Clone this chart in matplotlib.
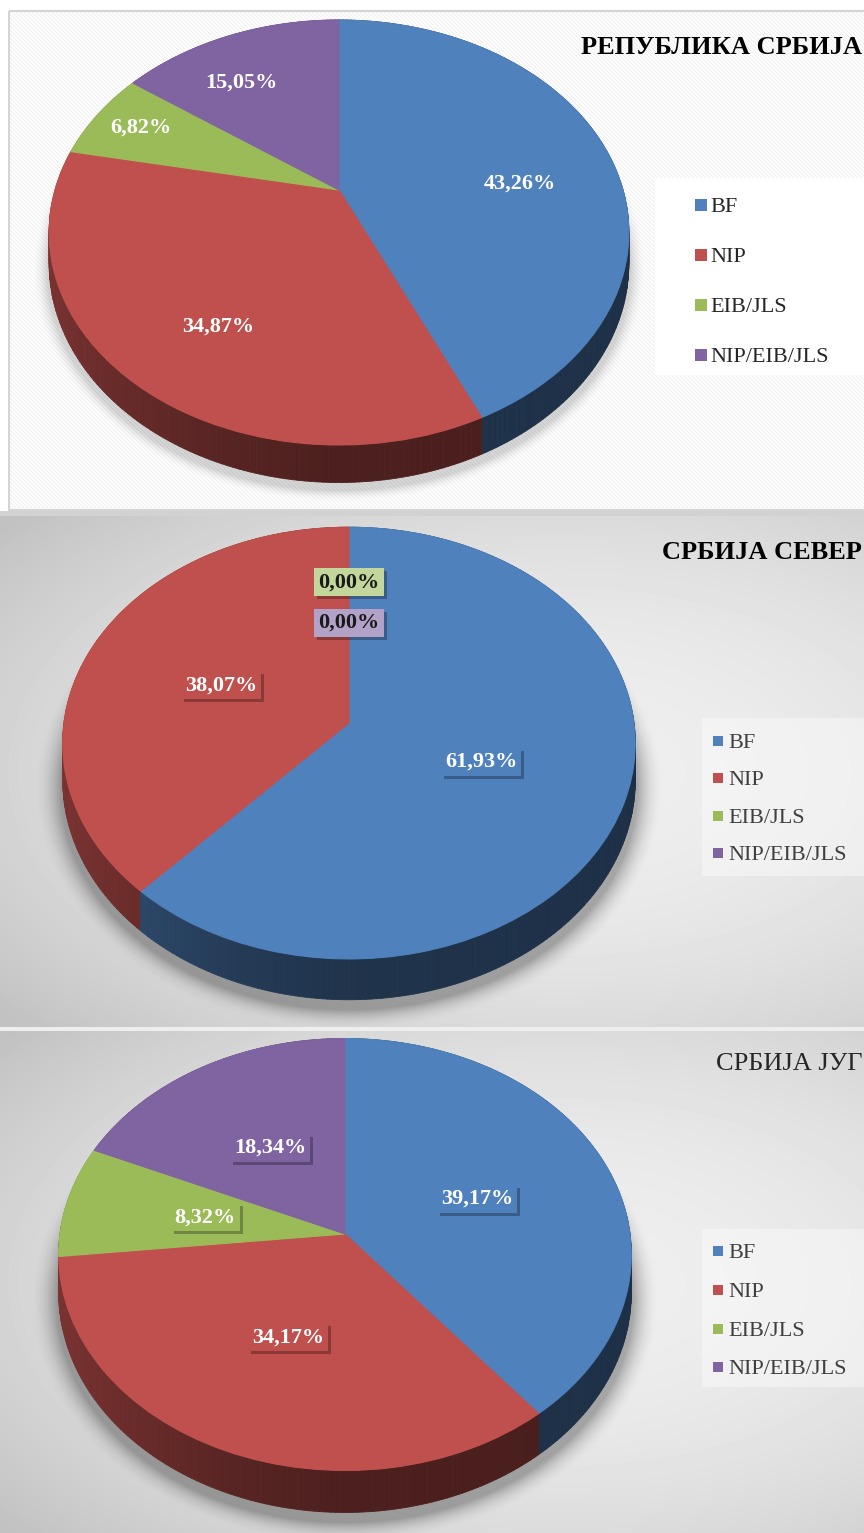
import numpy as np
import matplotlib
matplotlib.use("Agg")
import matplotlib.pyplot as plt
import matplotlib.transforms as mtransforms
from matplotlib.collections import PolyCollection
from matplotlib.colors import to_rgb
from matplotlib.patches import Rectangle

plt.rcParams["font.family"] = ["Liberation Serif", "DejaVu Serif"]

# shares of each source, in percent
categories = ["BF", "NIP", "EIB/JLS", "NIP/EIB/JLS"]
slice_colors = ["#4f81bd", "#c0504d", "#9bbb59", "#8064a2"]
pale_colors = ["#a7c0de", "#e0a8a6", "#c3d69b", "#b3a2c7"]

titles = ["РЕПУБЛИКА СРБИЈА", "СРБИЈА СЕВЕР", "СРБИЈА ЈУГ"]
share_republika = [43.26, 34.87, 6.82, 15.05]
share_sever = [61.93, 38.07, 0.00, 0.00]
share_jug = [39.17, 34.17, 8.32, 18.34]

W, H = 864, 1533


class TiltedDisk(mtransforms.Transform):
    """Perspective view of a flat unit disk, output in pixels (y down)."""
    input_dims = 2
    output_dims = 2

    def __init__(self, cx, cy, sx, sy, persp, drop=0.0):
        super().__init__()
        self.cx, self.cy, self.sx, self.sy = cx, cy, sx, sy
        self.persp, self.drop = persp, drop

    def transform_non_affine(self, xy):
        xy = np.asarray(xy, dtype=float)
        u, v = xy[:, 0], xy[:, 1]
        w = 1 + self.persp * v
        return np.column_stack([self.cx + self.sx * u / w,
                                self.cy + (self.drop - self.sy * v) / w])


panels = [
    dict(title=titles[0], values=share_republika, y0=10, y1=510,
         cx=339, cy=190, sx=284, sy=204, persp=0.20, depth=30,
         label_r=[0.64, 0.70, 0.81, 0.70], label_turn=[9.5, -6, 0, -6],
         boxed=False, title_y=54, title_bold=True, title_color="#000000",
         legend_box=(655, 178, 864, 375), legend_x=701, text_x=710,
         legend_y=[212, 262, 312, 362], marker=75, legend_color="#262626",
         shadow=(0.16, 14, 6)),
    dict(title=titles[1], values=share_sever, y0=516, y1=1027,
         cx=349, cy=723, sx=285, sy=214, persp=0.093, depth=37,
         label_r=[0.49, 0.49, 0.70, 0.49], label_turn=[0, 0, 0, 0],
         boxed=True, title_y=559, title_bold=True, title_color="#000000",
         legend_box=(702, 718, 864, 876), legend_x=718, text_x=728,
         legend_y=[748, 785, 823, 860], marker=45, legend_color="#404040",
         shadow=(0.30, 24, 8)),
    dict(title=titles[2], values=share_jug, y0=1031, y1=1533,
         cx=345, cy=1234, sx=285, sy=214, persp=0.095, depth=38,
         label_r=[0.50, 0.50, 0.50, 0.50], label_turn=[0, 0, 0, 0],
         boxed=True, title_y=1070, title_bold=False, title_color="#262626",
         legend_box=(702, 1229, 864, 1387), legend_x=718, text_x=728,
         legend_y=[1258, 1297, 1336, 1374], marker=45, legend_color="#404040",
         shadow=(0.30, 24, 8)),
]


def gray_image(ax, vals, x0, x1, y0, y1, z=0):
    ax.imshow(vals, cmap="gray", vmin=0, vmax=1, extent=(x0, x1, y1, y0),
              interpolation="nearest", zorder=z)


def pie_shadow(ax, p, amax, soft, drop):
    cx, cy, sx, sy, a, h = p["cx"], p["cy"], p["sx"], p["sy"], p["persp"], p["depth"]
    A = sx / np.sqrt(1 - a * a) + 2
    ytop = cy + (h - sy) / (1 + a)
    ybot = cy + (h + sy) / (1 - a)
    ym = (ytop + ybot) / 2 + drop
    B = (ybot - ytop) / 2 + 2
    x0, x1 = int(max(0, cx - A - 3 * soft)), int(min(W, cx + A + 3 * soft))
    y0, y1 = int(max(p["y0"], ym - B - 3 * soft)), int(min(p["y1"], ym + B + 3 * soft))
    yy, xx = np.mgrid[y0:y1, x0:x1] + 0.5
    r = np.hypot((xx - cx) / A, (yy - ym) / B)
    d = (r - 1) * np.sqrt(A * B)
    alpha = amax * np.clip(1 - d / soft, 0, 1) ** 2
    img = np.zeros(xx.shape + (4,))
    img[..., 3] = alpha
    ax.imshow(img, extent=(x0, x1, y1, y0), interpolation="bilinear", zorder=2)


fig = plt.figure(figsize=(W / 100, H / 100), dpi=100)
fig.patch.set_facecolor("white")
ax = fig.add_axes([0, 0, 1, 1])

# top panel: white with fine diagonal hatching and a thin frame
yy, xx = np.mgrid[10:510, 8:W]
gray_image(ax, np.where((xx - yy) % 4 == 0, 0.935, 0.985), 8, W, 10, 510)
ax.add_patch(Rectangle((8.5, 10.5), W, 499, fill=False, ec="#d4d4d4", lw=1.5, zorder=1))
ax.add_patch(Rectangle((0, 511), W, 5, fc="#d2d2d2", ec="none", zorder=1))
ax.add_patch(Rectangle((0, 1027), W, 4, fc="#eeeeee", ec="none", zorder=1))

# lower panels: soft gray gradient
for p in panels[1:]:
    yy, xx = np.mgrid[p["y0"]:p["y1"], 0:W] + 0.5
    ymid = (p["y0"] + p["y1"]) / 2
    r2 = ((xx - 560) / 620) ** 2 + ((yy - ymid) / 330) ** 2
    gray_image(ax, np.clip(0.935 - 0.13 * r2, 0.76, 0.94), 0, W, p["y0"], p["y1"])

for p in panels:
    pie_shadow(ax, p, *p["shadow"])

    top = TiltedDisk(p["cx"], p["cy"], p["sx"], p["sy"], p["persp"])
    base = TiltedDisk(p["cx"], p["cy"], p["sx"], p["sy"], p["persp"], drop=p["depth"])

    wedges, _ = ax.pie(p["values"], colors=slice_colors, startangle=90,
                       counterclock=False, wedgeprops=dict(linewidth=0.8))

    side_polys, side_cols, side_depth = [], [], []
    for w, col, val in zip(wedges, slice_colors, p["values"]):
        w.set_transform(top + ax.transData)
        w.set_edgecolor(w.get_facecolor())
        w.set_zorder(5)
        if val <= 0:
            w.set_visible(False)
            continue
        t = np.radians(np.linspace(w.theta1, w.theta2, int(w.theta2 - w.theta1) + 2))
        ring = np.column_stack([np.cos(t), np.sin(t)])
        up, dn = top.transform(ring), base.transform(ring)
        rgb = np.array(to_rgb(col))
        for i in range(len(t) - 1):
            tm = (t[i] + t[i + 1]) / 2
            u = np.cos(tm)
            k = 0.40 + 0.24 * np.clip(-u, 0, 1) ** 1.3 - 0.03 * np.clip(u, 0, 1)
            side_polys.append([up[i], up[i + 1], dn[i + 1], dn[i]])
            side_cols.append(np.clip(rgb * k, 0, 1))
            side_depth.append(np.sin(tm))
    order = np.argsort(side_depth)[::-1]
    cols = [side_cols[i] for i in order]
    ax.add_collection(PolyCollection([side_polys[i] for i in order], facecolors=cols,
                                     edgecolors=cols, linewidths=0.6, zorder=4))

    # value labels
    for w, val, r, turn, col, pale in zip(wedges, p["values"], p["label_r"],
                                          p["label_turn"], slice_colors, pale_colors):
        mid = np.radians((w.theta1 + w.theta2) / 2 - turn)
        x, y = top.transform([[r * np.cos(mid), r * np.sin(mid)]])[0]
        label = f"{val:.2f}%".replace(".", ",")
        if p["boxed"]:
            fc, tc = (col, "white") if val > 0 else (pale, "#1a1a1a")
            ax.text(x + 3, y + 3, label, ha="center", va="center", fontsize=16,
                    fontweight="bold", color="none", zorder=6,
                    bbox=dict(boxstyle="square,pad=0.18", fc="black", ec="none", alpha=0.28))
            ax.text(x, y, label, ha="center", va="center", fontsize=16,
                    fontweight="bold", color=tc, zorder=7,
                    bbox=dict(boxstyle="square,pad=0.18", fc=fc, ec="none"))
        else:
            ax.text(x, y, label, ha="center", va="center", fontsize=16,
                    fontweight="bold", color="white", zorder=7)

    # title
    ax.text(862, p["title_y"], p["title"], ha="right", va="baseline", fontsize=19,
            fontweight="bold" if p["title_bold"] else "normal",
            color=p["title_color"], zorder=7)

    # legend
    lx0, ly0, lx1, ly1 = p["legend_box"]
    ax.add_patch(Rectangle((lx0, ly0), lx1 - lx0, ly1 - ly0, fc="white", ec="none",
                           alpha=1.0 if not p["boxed"] else 0.4, zorder=3))
    for name, col, yb in zip(categories, slice_colors, p["legend_y"]):
        ax.scatter([p["legend_x"]], [yb - 7], s=p["marker"], marker="s", color=col,
                   linewidths=0, zorder=6)
        ax.text(p["text_x"], yb, name, ha="left", va="baseline", fontsize=16,
                color=p["legend_color"], zorder=6)

ax.set_xlim(0, W)
ax.set_ylim(H, 0)
ax.set_aspect("auto")
ax.axis("off")
fig.savefig("out.png", dpi=100)
